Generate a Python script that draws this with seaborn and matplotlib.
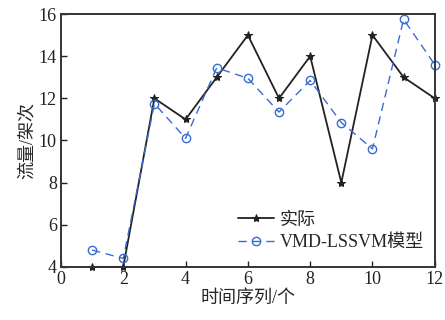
import matplotlib
matplotlib.use("Agg")
import matplotlib.pyplot as plt
import seaborn as sns
import pandas as pd

# ================= Data =================
x_idx = [1, 2, 3, 4, 5, 6, 7, 8, 9, 10, 11, 12]
actual = [4.0, 4.0, 12.0, 11.0, 13.0, 15.0, 12.0, 14.0, 8.0, 15.0, 13.0, 12.0]
vmd_lssvm = [4.8, 4.4, 11.75, 10.1, 13.45, 12.95, 11.35, 12.85, 10.85, 9.6, 15.75, 13.6]
labels = ["实际", "VMD-LSSVM模型"]
x_ticks = [0, 2, 4, 6, 8, 10, 12]
y_ticks = [4, 6, 8, 10, 12, 14, 16]

COLOR_ACT = "#222222"
COLOR_MOD = "#3a6bd0"

sns.set_theme(style="white")
plt.rcParams['font.family'] = ['Liberation Serif', 'Noto Sans CJK SC']
plt.rcParams['font.size'] = 12
plt.rcParams['axes.unicode_minus'] = False

df = pd.DataFrame({"x": x_idx, "actual": actual, "model": vmd_lssvm})

fig = plt.figure(figsize=(4.45, 3.2), dpi=100)
ax = fig.add_axes([0.137, 0.166, 0.840, 0.79])

sns.lineplot(data=df, x="x", y="actual", ax=ax, color=COLOR_ACT, lw=1.3,
             marker="*", markersize=6, markeredgecolor=COLOR_ACT,
             label=labels[0], clip_on=False)
sns.lineplot(data=df, x="x", y="model", ax=ax, color=COLOR_MOD, lw=1.0,
             linestyle=(0, (6, 4)), marker="o", markersize=6,
             markerfacecolor="none", markeredgecolor=COLOR_MOD, markeredgewidth=1.0,
             label=labels[1], clip_on=False)

ax.set_xlim(0, 12)
ax.set_ylim(4, 16)
ax.set_xticks(x_ticks)
ax.set_yticks(y_ticks)
ax.set_xlabel("时间序列/个", fontsize=13, labelpad=1)
ax.set_ylabel("流量/架次", fontsize=13, labelpad=2)
ax.tick_params(direction="in", length=4, width=1, labelsize=13, pad=3,
               bottom=True, left=True, top=False, right=False, colors="#222222")
for s in ax.spines.values():
    s.set_color("#333333")
    s.set_linewidth(1.4)

ax.legend(loc="lower right", bbox_to_anchor=(1.0, 0.02), frameon=False,
          fontsize=13, handlelength=2.0, handletextpad=0.3, labelspacing=0.3,
          borderaxespad=0.2)

fig.savefig("out.png", dpi=100)
